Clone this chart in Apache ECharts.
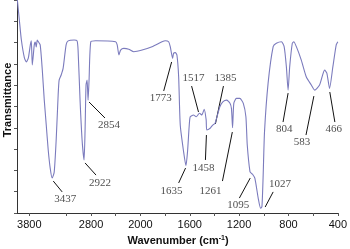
<!DOCTYPE html>
<html>
<head>
<meta charset="utf-8">
<script src="https://cdn.jsdelivr.net/npm/echarts@6/dist/echarts.min.js"></script>
<style>html,body{margin:0;padding:0;background:#fff}#c{width:350px;height:249px}</style>
</head>
<body>
<div id="c"></div>
<script>
// Spectrum (wavenumber cm-1, transmittance %)
var wavenumbers = [3994,3962,3929,3880,3848,3816,3784,3768,3752,3720,3704,3688,3672,3656,3624,3590,3558,3526,3494,3462,3430,3397,3365,3333,3317,3284,3252,3204,3171,3074,3026,3010,2978,2945,2913,2897,2881,2864,2848,2832,2804,2724,2402,2376,2348,2321,2268,2188,2107,1986,1906,1825,1798,1771,1758,1739,1731,1717,1704,1690,1677,1650,1631,1618,1604,1596,1570,1548,1521,1502,1483,1467,1462,1435,1414,1395,1356,1330,1301,1274,1262,1253,1243,1222,1194,1166,1145,1134,1112,1100,1091,1072,1045,1026,1015,1005,994,965,924,898,857,835,817,803,790,769,757,736,696,656,615,588,548,507,489,467,440,413,400];
var transmittance = [100,90.6,81.2,72.8,70.9,72.8,78.9,80.8,69.5,78.9,80.3,77.9,81.2,80.5,78.9,67.1,53,41.3,29.6,21.1,16.4,19.2,34.3,55.4,62.4,64.8,68,78.9,80.8,81.2,80.8,76.5,53,34.3,24.9,38.5,60.1,62.4,53,62.4,80.4,80.9,80.4,78.9,74.2,76.5,77.3,76.9,75.7,76.5,78.1,80.4,80.9,80.4,78.1,72.6,75,75.3,74.2,64,41.3,28.8,22.2,28.8,41.3,45.2,46,45.2,46.8,46,48.7,43.7,39,39.8,41.3,42.1,49.9,52.3,53,51.5,49,40,51.5,53.8,53.8,51.5,45.2,31.9,19.4,18.6,18.2,16.3,6.9,2.2,3,17.8,38.2,61,78.1,79.7,80.4,78.1,68.7,57.7,68.7,79.7,80.4,78.1,71.8,64,60.1,57.7,60.1,67.1,65.7,58.5,68.7,78.9,80.4];

// Axis ticks and labels (wavenumber)
var tickWavenumbers = [3800,3200,2800,2400,2000,1800,1600,1400,1200,1000,800,600,400];
var labelWavenumbers = [3800,2800,2000,1600,1200,800,400];

// Peak annotations: label text, leader start (near peak), leader end, label centre  [wavenumber, T]
var peakLabels = ['3437','2922','2854','1773','1635','1517','1458','1385','1261','1095','1027','804','583','466'];
var leaderFrom = [[3412,15.0],[2897,23.5],[2832,52.1],[1747,70.9],[1634,21.1],[1529,47.4],[1465,36.6],[1392,41.8],[1255,38.0],[1110,16.4],[989,2.8],[803,56.3],[594,54.9],[465,56.8]];
var leaderTo   = [[3268,9.9],[2719,17.8],[2574,44.6],[1811,57.3],[1690,14.1],[1585,59.6],[1473,24.9],[1327,59.6],[1335,15.0],[1198,7.0],[924,9.9],[844,42.7],[658,36.6],[424,42.7]];
var labelAt    = [[3219,6.6],[2655,14.1],[2510,41.3],[1835,54.0],[1747,10.3],[1569,63.4],[1489,21.1],[1311,63.4],[1432,10.3],[1206,3.5],[868,13.6],[835,39.4],[690,33.3],[432,39.4]];

// Broken scale: above 2000 cm-1 the axis is compressed by a factor 2
function toU(w){ return w <= 2000 ? w : 2000 + (w - 2000) / 2; }
function fromU(u){ return u <= 2000 ? u : 2000 + 2 * (u - 2000); }

var chart = echarts.init(document.getElementById('c'), null, {renderer:'canvas'});
var spectrum = wavenumbers.map(function(w,i){ return [toU(w), transmittance[i]]; });
var leaders = peakLabels.map(function(t,i){
  return {coords:[[toU(leaderFrom[i][0]), leaderFrom[i][1]],[toU(leaderTo[i][0]), leaderTo[i][1]]]};
});
var labels = peakLabels.map(function(t,i){ return [toU(labelAt[i][0]), labelAt[i][1], t]; });

chart.setOption({
  animation:false,
  grid:{left:17,right:10,top:0,bottom:36},
  xAxis:{
    type:'value', inverse:true, min:toU(400), max:toU(4000),
    axisLine:{show:true,lineStyle:{color:'#333',width:1}},
    axisTick:{show:true,inside:false,length:3,lineStyle:{color:'#555'},customValues:tickWavenumbers.map(toU)},
    axisLabel:{show:true,margin:6,color:'#111',fontFamily:'Arial, Liberation Sans',fontSize:11,
      customValues:labelWavenumbers.map(toU),
      formatter:function(v){ return String(Math.round(fromU(v))); }},
    splitLine:{show:false}
  },
  yAxis:{
    type:'value', min:0, max:100, interval:10,
    axisLine:{show:true,lineStyle:{color:'#333',width:1}},
    axisTick:{show:true,inside:false,length:3,lineStyle:{color:'#555'}},
    axisLabel:{show:false},
    splitLine:{show:false}
  },
  graphic:[
    {type:'text', x:8, y:100, rotation:Math.PI/2,
     style:{text:'Transmittance', font:'bold 11px Arial, Liberation Sans', fill:'#111', textAlign:'center', textVerticalAlign:'middle'}},
    {type:'text', x:178, y:241,
     style:{text:'{a|Wavenumber (cm}{s|-1}{a|)}', textAlign:'center', textVerticalAlign:'middle', fill:'#111',
       rich:{a:{fontFamily:'Arial, Liberation Sans',fontWeight:'bold',fontSize:11,fill:'#111'},
             s:{fontFamily:'Arial, Liberation Sans',fontWeight:'bold',fontSize:7,fill:'#111',padding:[0,0,6,0]}}}}
  ],
  series:[
    {type:'line', data:spectrum, showSymbol:false, smooth:0.2, clip:true,
     lineStyle:{color:'#7b7bbd',width:1.1}},
    {type:'lines', coordinateSystem:'cartesian2d', data:leaders, silent:true,
     lineStyle:{color:'#111',width:1,opacity:1}},
    {type:'scatter', data:labels, symbolSize:0, silent:true,
     label:{show:true,position:'inside',formatter:function(p){return p.value[2];},
       fontFamily:'Liberation Serif, Times New Roman, serif',fontSize:11,color:'#222'}}
  ]
});
</script>
</body>
</html>
